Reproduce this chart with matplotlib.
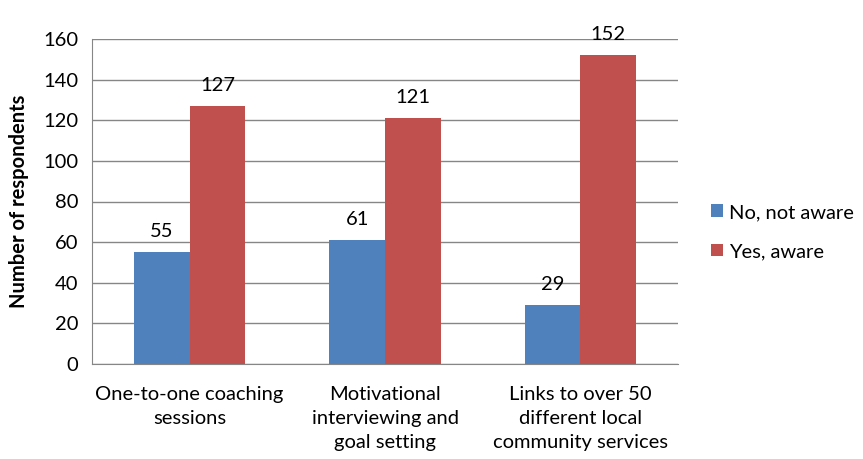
import matplotlib.pyplot as plt
import numpy as np

categories = ["One-to-one coaching\nsessions",
              "Motivational\ninterviewing and\ngoal setting",
              "Links to over 50\ndifferent local\ncommunity services"]
not_aware = [55, 61, 29]
aware = [127, 121, 152]
series_names = ["No, not aware", "Yes, aware"]

plt.rcParams['font.family'] = ['Lato', 'DejaVu Sans']

fig = plt.figure(figsize=(8.63, 4.59), dpi=100)
ax = fig.add_axes([92 / 863, 1 - 364 / 459, 586 / 863, 325 / 459])

x = np.arange(len(categories))
w = 0.285
b1 = ax.bar(x - w / 2, not_aware, w, color="#4F81BD", label=series_names[0], zorder=3)
b2 = ax.bar(x + w / 2, aware, w, color="#C0504D", label=series_names[1], zorder=3)

for bars in (b1, b2):
    for rect in bars:
        ax.annotate(str(int(rect.get_height())),
                    (rect.get_x() + rect.get_width() / 2, rect.get_height()),
                    xytext=(0, 9), textcoords="offset points",
                    ha="center", va="bottom", fontsize=14.5)

ax.set_xlim(-0.5, 2.5)
ax.set_ylim(0, 160)
ax.set_yticks(range(0, 161, 20))
ax.yaxis.grid(True, color="#868686", linewidth=1)
ax.set_axisbelow(True)
ax.set_xticks(x)
ax.set_xticklabels(categories, fontsize=14.5, linespacing=1.5)
ax.tick_params(axis="y", labelsize=14.5, length=0, pad=10)
ax.tick_params(axis="x", length=0, pad=16)
for s in ("top", "right"):
    ax.spines[s].set_visible(False)
for s in ("left", "bottom"):
    ax.spines[s].set_color("#868686")

ax.set_ylabel("Number of respondents", fontsize=14.5, fontweight="bold", labelpad=10)

ax.legend(loc="center left", bbox_to_anchor=(1.025, 0.406), frameon=False,
          fontsize=14.5, handlelength=0.6, handleheight=0.6, labelspacing=1.1,
          handletextpad=0.3)

fig.savefig("out.png", dpi=100)
